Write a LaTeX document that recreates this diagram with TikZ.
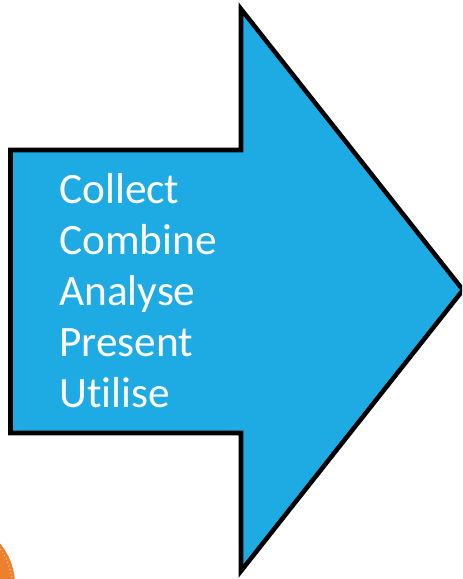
\documentclass[tikz,border=0pt]{standalone}
\usepackage{fontspec}
\setmainfont[Ligatures=NoCommon]{Carlito}
\definecolor{arrowblue}{HTML}{1EABE3}
\definecolor{discorange}{HTML}{EE7F2D}
\definecolor{discpale}{HTML}{F8C9A0}
\tikzset{
  bigarrow/.style={draw=black,fill=arrowblue,line width=3.4pt,miter limit=10,line join=miter},
  listtext/.style={text=white,anchor=base west,inner sep=0pt,font=\fontsize{32.5}{32.5}\selectfont},
}
\begin{document}
\begin{tikzpicture}[x=0.75pt,y=-0.75pt]
\useasboundingbox (0,0) rectangle (462,579);
\begin{scope}
\clip (0,0) rectangle (462,579);
\fill[discorange] (-50,585) circle (65);
\draw[discpale,line width=0.8pt,dotted] (-50,585) circle (62);
\draw[bigarrow] (241,9) -- (463,290) -- (241,571) -- (241,433) -- (10.5,433) -- (10.5,150) -- (241,150) -- cycle;
\end{scope}
\node[listtext] (t1) at (59,203) {Collect};
\node[listtext] (t2) at (59,254) {Combine};
\node[listtext] (t3) at (59,305) {Analyse};
\node[listtext] (t4) at (59,356) {Present};
\node[listtext] (t5) at (59,407) {Utilise};
\end{tikzpicture}
\end{document}
